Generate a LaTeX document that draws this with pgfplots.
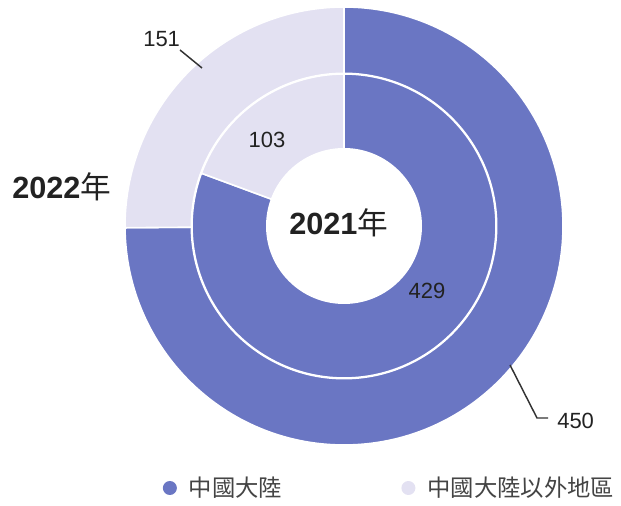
\documentclass[border=0pt]{standalone}
\usepackage{pgfplots}
\pgfplotsset{compat=1.18}
\usepackage{pgfplotstable}
\usepackage{fontspec}
\setmainfont{Liberation Sans}
\newfontfamily\cjk{Noto Sans CJK TC}
\definecolor{mainland}{HTML}{6A76C3}
\definecolor{outside}{HTML}{E3E1F2}
\definecolor{txt}{HTML}{222222}
\definecolor{legtxt}{HTML}{444444}

% outer ring = 2022, inner ring = 2021
\pgfplotstableread{
year mainland outside
2021 429 103
2022 450 151
}\shares

\begin{document}
\begin{tikzpicture}
\pgfplotstablegetelem{0}{mainland}\of\shares \let\inA\pgfplotsretval
\pgfplotstablegetelem{0}{outside}\of\shares \let\inB\pgfplotsretval
\pgfplotstablegetelem{1}{mainland}\of\shares \let\outA\pgfplotsretval
\pgfplotstablegetelem{1}{outside}\of\shares \let\outB\pgfplotsretval
\pgfmathsetmacro{\inEnd}{90-360*(\inA/(\inA+\inB))}
\pgfmathsetmacro{\outEnd}{90-360*(\outA/(\outA+\outB))}
\begin{axis}[
    x=0.75pt, y=0.75pt,
    xmin=0, xmax=621, ymin=0, ymax=506,
    scale only axis, hide axis, clip=false,
    legend columns=2,
    legend style={draw=none, fill=none, at={(axis cs:152,18)}, anchor=west,
        font=\cjk\fontsize{17.5}{19}\selectfont, text=legtxt,
        /tikz/every even column/.append style={column sep=82.5pt}},
]
\path (axis cs:0,0) rectangle (axis cs:621,506);
\addlegendimage{legend image code/.code={\path[fill=mainland, draw=none] (10pt,0) circle[radius=5.25pt];\path (0,0) (22pt,0);}}
\addlegendentry{中國大陸}
\addlegendimage{legend image code/.code={\path[fill=outside, draw=none] (10pt,0) circle[radius=5.25pt];\path (0,0) (22pt,0);}}
\addlegendentry{中國大陸以外地區}

\coordinate (c) at (axis cs:344,280);
% outer ring
\filldraw[fill=mainland, draw=white, line width=1.2pt] (c) -- ++(90:164.25pt)
    arc[start angle=90, end angle=\outEnd, radius=164.25pt] -- cycle;
\filldraw[fill=outside, draw=white, line width=1.2pt] (c) -- ++(\outEnd:164.25pt)
    arc[start angle=\outEnd, end angle=-270, radius=164.25pt] -- cycle;
\fill[white] (c) circle[radius=115.1pt];
% inner ring
\filldraw[fill=mainland, draw=white, line width=1.2pt] (c) -- ++(90:114pt)
    arc[start angle=90, end angle=\inEnd, radius=114pt] -- cycle;
\filldraw[fill=outside, draw=white, line width=1.2pt] (c) -- ++(\inEnd:114pt)
    arc[start angle=\inEnd, end angle=-270, radius=114pt] -- cycle;
\fill[white] (c) circle[radius=58.5pt];

% value labels
\begin{scope}[font=\fontsize{16.5}{18}\selectfont, text=txt]
\node[anchor=base west, inner sep=0] at (axis cs:143,459) {151};
\node[anchor=base west, inner sep=0] at (axis cs:557,77) {450};
\node[anchor=base, inner sep=0] at (axis cs:267,358) {103};
\node[anchor=base, inner sep=0] at (axis cs:427,207) {429};
\end{scope}
\draw[black!80, line width=1.1pt] (axis cs:180,456) -- (axis cs:202,438);
\draw[black!80, line width=1.1pt] (axis cs:510,141) -- (axis cs:537,88) -- (axis cs:548,88);

% year labels
\node[anchor=base west, inner sep=0, text=txt, font=\fontsize{23}{26}\selectfont]
    at (axis cs:12,307) {\textbf{2022}{\cjk 年}};
\node[anchor=base west, inner sep=0, text=txt, font=\fontsize{23}{26}\selectfont]
    at (axis cs:289,271) {\textbf{2021}{\cjk 年}};
\end{axis}
\end{tikzpicture}
\end{document}
